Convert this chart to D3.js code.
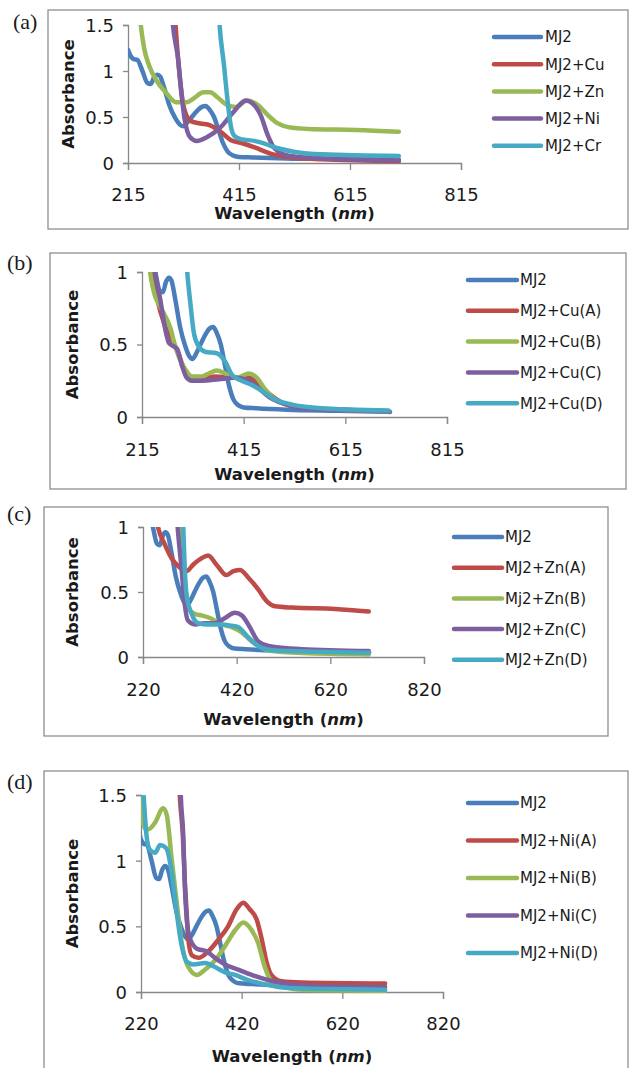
<!DOCTYPE html>
<html><head><meta charset="utf-8">
<script src="https://cdn.jsdelivr.net/npm/d3@7"></script>
<style>body{margin:0;background:#fff}svg{display:block}</style>
</head><body>
<svg id="c" width="629" height="1068"></svg>
<script>
// ---------- DATA ----------
const colors = ["#4A7EBB", "#BE4B48", "#98B954", "#7D5FA0", "#46AAC5"];
const xTicksA = [215, 415, 615, 815];
const xTicksC = [220, 420, 620, 820];
const yTicks15 = [0, 0.5, 1, 1.5];
const yTicks10 = [0, 0.5, 1];

const labelsA = ["MJ2", "MJ2+Cu", "MJ2+Zn", "MJ2+Ni", "MJ2+Cr"];
const labelsB = ["MJ2", "MJ2+Cu(A)", "MJ2+Cu(B)", "MJ2+Cu(C)", "MJ2+Cu(D)"];
const labelsC = ["MJ2", "MJ2+Zn(A)", "Mj2+Zn(B)", "MJ2+Zn(C)", "MJ2+Zn(D)"];
const labelsD = ["MJ2", "MJ2+Ni(A)", "MJ2+Ni(B)", "MJ2+Ni(C)", "MJ2+Ni(D)"];

// MJ2 spectrum (same in every panel)
const mj2 = [[215,1.23],[220,1.16],[225,1.13],[232,1.12],[241,1.0],[250,0.87],[256,0.86],[262,0.93],[268,0.96],[273,0.94],[280,0.82],[290,0.62],[300,0.49],[308,0.42],[314,0.40],[322,0.44],[330,0.50],[340,0.57],[348,0.61],[355,0.62],[362,0.58],[370,0.50],[378,0.36],[386,0.22],[395,0.12],[405,0.08],[415,0.066],[440,0.06],[500,0.05],[600,0.043],[703,0.035]];

// panel (a)
const aCu = [[296,1.9],[303,1.3],[309,0.9],[314,0.65],[320,0.52],[327,0.46],[345,0.43],[363,0.41],[382,0.34],[400,0.25],[418,0.22],[443,0.17],[473,0.10],[504,0.065],[565,0.04],[703,0.02]];
const aZn = [[232,1.9],[238,1.5],[244,1.25],[253,1.06],[266,0.90],[284,0.76],[302,0.66],[321,0.66],[333,0.70],[351,0.77],[363,0.77],[375,0.72],[394,0.63],[409,0.61],[430,0.68],[449,0.63],[467,0.52],[485,0.43],[504,0.39],[540,0.37],[626,0.36],[703,0.34]];
const aNi = [[291,1.9],[296,1.5],[305,1.14],[311,0.77],[317,0.48],[327,0.28],[339,0.24],[357,0.28],[382,0.39],[406,0.56],[427,0.68],[439,0.65],[454,0.52],[467,0.30],[479,0.16],[504,0.08],[565,0.05],[703,0.03]];
const aCr = [[376,1.9],[380,1.5],[388,1.06],[394,0.70],[400,0.41],[406,0.30],[418,0.26],[443,0.24],[461,0.21],[485,0.16],[516,0.12],[565,0.094],[703,0.076]];

// panel (b)
const bCuA = [[234,1.05],[246,0.80],[258,0.65],[270,0.55],[285,0.45],[298,0.33],[310,0.27],[330,0.27],[360,0.28],[398,0.27],[425,0.27],[445,0.23],[465,0.16],[490,0.10],[530,0.065],[700,0.04]];
const bCuB = [[229,1.05],[233,0.95],[241,0.83],[248,0.78],[254,0.74],[260,0.70],[267,0.65],[272,0.60],[277,0.53],[287,0.42],[300,0.33],[313,0.28],[333,0.28],[346,0.30],[362,0.32],[379,0.30],[398,0.27],[410,0.28],[425,0.30],[441,0.27],[457,0.19],[477,0.12],[503,0.085],[562,0.058],[700,0.04]];
const bCuC = [[239,1.05],[243,0.95],[251,0.81],[261,0.60],[268,0.51],[276,0.49],[284,0.47],[294,0.35],[303,0.27],[313,0.25],[333,0.25],[366,0.26],[398,0.27],[425,0.25],[444,0.20],[464,0.14],[490,0.097],[529,0.062],[700,0.04]];
const bCuD = [[302,1.1],[304,1.0],[310,0.79],[317,0.58],[326,0.49],[339,0.45],[362,0.44],[379,0.38],[392,0.29],[411,0.25],[431,0.22],[451,0.18],[477,0.12],[510,0.085],[562,0.062],[700,0.044]];

// panel (c)
const cZnA = [[246,1.12],[252,1.0],[266,0.87],[281,0.76],[295,0.70],[313,0.66],[327,0.71],[345,0.76],[359,0.78],[377,0.71],[398,0.63],[413,0.66],[427,0.67],[445,0.61],[466,0.52],[484,0.43],[502,0.39],[538,0.38],[631,0.37],[702,0.35]];
const cZnB = [[296,1.1],[299,1.0],[304,0.80],[309,0.58],[314,0.44],[320,0.36],[332,0.33],[345,0.32],[363,0.30],[388,0.25],[409,0.23],[431,0.19],[452,0.12],[470,0.08],[488,0.05],[560,0.03],[702,0.02]];
const cZnC = [[292,1.1],[294,1.0],[302,0.69],[309,0.41],[316,0.28],[331,0.25],[352,0.26],[374,0.26],[395,0.30],[416,0.34],[431,0.32],[448,0.23],[466,0.12],[488,0.085],[559,0.06],[702,0.046]];
const cZnD = [[305,1.1],[306,1.0],[309,0.69],[313,0.48],[324,0.33],[338,0.26],[359,0.25],[388,0.25],[409,0.24],[423,0.23],[445,0.15],[466,0.085],[502,0.05],[595,0.04],[702,0.033]];

// panel (d)
const dNiA = [[293,1.9],[297,1.5],[303,1.2],[307,0.85],[311,0.58],[314,0.40],[321,0.28],[334,0.26],[354,0.31],[374,0.40],[393,0.50],[410,0.63],[423,0.68],[436,0.63],[450,0.55],[460,0.40],[470,0.22],[479,0.13],[499,0.082],[539,0.072],[705,0.064]];
const dNiB = [[217,1.7],[220,1.5],[223,1.32],[229,1.24],[235,1.24],[248,1.29],[264,1.40],[271,1.35],[281,1.01],[291,0.68],[301,0.37],[314,0.19],[331,0.13],[347,0.17],[367,0.24],[387,0.35],[407,0.47],[423,0.53],[440,0.47],[453,0.37],[466,0.19],[480,0.077],[506,0.038],[539,0.018],[705,0.01]];
const dNiC = [[296,1.9],[299,1.5],[304,1.19],[307,0.81],[311,0.55],[317,0.41],[331,0.33],[350,0.31],[367,0.26],[387,0.21],[413,0.17],[440,0.13],[473,0.09],[506,0.064],[572,0.044],[705,0.038]];
const dNiD = [[221,1.7],[225,1.5],[231,1.19],[238,1.08],[248,1.06],[258,1.12],[265,1.11],[271,1.09],[281,0.91],[291,0.60],[301,0.35],[311,0.23],[324,0.21],[347,0.22],[367,0.19],[387,0.15],[407,0.13],[433,0.09],[460,0.064],[493,0.038],[539,0.026],[705,0.018]];

// ---------- LAYOUT ----------
const panels = [
  {tag:"(a)", tagX:13, tagY:29, frame:[48,10,628,229], x:[128,461], y:[163,25], xd:[215,815], yd:[0,1.5],
   xt:xTicksA, yt:yTicks15, series:[mj2,aCu,aZn,aNi,aCr], labels:labelsA, ytx:68, xtb:56, tp:18,
   leg:{x1:494,x2:541,tx:545,y0:37,dy:27.2}},
  {tag:"(b)", tagX:7, tagY:270, frame:[50,253,626,489], x:[142,447], y:[417,272], xd:[215,815], yd:[0,1],
   xt:xTicksA, yt:yTicks10, series:[mj2,bCuA,bCuB,bCuC,bCuD], labels:labelsB, ytx:72, xtb:63, tp:19,
   leg:{x1:468,x2:517,tx:520,y0:280,dy:30.8}},
  {tag:"(c)", tagX:7, tagY:521, frame:[44,507,608,736], x:[143,424], y:[657,527], xd:[220,820], yd:[0,1],
   xt:xTicksC, yt:yTicks10, series:[mj2,cZnA,cZnB,cZnC,cZnD], labels:labelsC, ytx:72, xtb:68, tp:19,
   leg:{x1:454,x2:502,tx:505,y0:537,dy:30.7}},
  {tag:"(d)", tagX:7, tagY:789, frame:[44,771,628,1075], x:[141,443], y:[992,795], xd:[220,820], yd:[0,1.5],
   xt:xTicksC, yt:yTicks15, series:[mj2,dNiA,dNiB,dNiC,dNiD], labels:labelsD, ytx:72, xtb:70, tp:18,
   leg:{x1:468,x2:517,tx:520,y0:803,dy:37.5}}
];

const svg = d3.select("#c");
const defs = svg.append("defs");
const axisColor = "#888";
const txt = "#1a1a1a";
const FONT = "'DejaVu Sans', sans-serif";

panels.forEach((p, i) => {
  const g = svg.append("g");
  const [fx0, fy0, fx1, fy1] = p.frame;
  g.append("rect").attr("x", fx0).attr("y", fy0).attr("width", fx1 - fx0).attr("height", fy1 - fy0)
    .attr("fill", "#fff").attr("stroke", "#8f8f8f").attr("stroke-width", 1.3);
  g.append("text").attr("x", p.tagX).attr("y", p.tagY).text(p.tag)
    .attr("font-family", "'Liberation Serif', serif").attr("font-size", 22).attr("fill", txt);

  const x = d3.scaleLinear().domain(p.xd).range(p.x);
  const y = d3.scaleLinear().domain(p.yd).range(p.y);

  const cid = "clip" + i;
  defs.append("clipPath").attr("id", cid).append("rect")
    .attr("x", p.x[0]).attr("y", p.y[1]).attr("width", p.x[1] - p.x[0]).attr("height", p.y[0] - p.y[1] + 4);

  const xa = g.append("g").attr("transform", `translate(0,${p.y[0]})`)
    .call(d3.axisBottom(x).tickValues(p.xt).tickSize(7).tickPadding(p.tp).tickFormat(d3.format("d")));
  const ya = g.append("g").attr("transform", `translate(${p.x[0]},0)`)
    .call(d3.axisLeft(y).tickValues(p.yt).tickSize(5).tickPadding(9).tickFormat(d => d === 0 ? "0" : d3.format("")(d)));
  [xa, ya].forEach(a => {
    a.select(".domain").attr("stroke", axisColor).attr("stroke-width", 1.3);
    a.selectAll(".tick line").attr("stroke", axisColor).attr("stroke-width", 1.3);
    a.selectAll(".tick text").attr("font-family", FONT).attr("font-size", 18).attr("fill", txt);
  });
  ya.selectAll(".tick text").attr("dy", "0.36em");

  const line = d3.line().x(d => x(d[0])).y(d => y(d[1])).curve(d3.curveMonotoneX);
  const lg = g.append("g").attr("clip-path", `url(#${cid})`);
  p.series.forEach((s, k) => {
    lg.append("path").datum(s).attr("d", line).attr("fill", "none")
      .attr("stroke", colors[k]).attr("stroke-width", 4.5)
      .attr("stroke-linejoin", "round").attr("stroke-linecap", "round");
  });

  const cx = (p.x[0] + p.x[1]) / 2;
  const xt = g.append("text").attr("x", cx).attr("y", p.y[0] + p.xtb).attr("text-anchor", "middle")
    .attr("font-family", FONT).attr("font-size", 16.5).attr("font-weight", "bold").attr("fill", txt);
  xt.append("tspan").text("Wavelength (");
  xt.append("tspan").attr("font-style", "italic").text("nm");
  xt.append("tspan").text(")");
  const cy = (p.y[0] + p.y[1]) / 2;
  g.append("text").attr("transform", `translate(${p.ytx},${cy}) rotate(-90)`).attr("text-anchor", "middle")
    .attr("dy", "0.36em").attr("font-family", FONT).attr("font-size", 16.5).attr("font-weight", "bold")
    .attr("fill", txt).text("Absorbance");

  p.labels.forEach((lab, k) => {
    const yy = p.leg.y0 + k * p.leg.dy;
    g.append("line").attr("x1", p.leg.x1).attr("x2", p.leg.x2).attr("y1", yy).attr("y2", yy)
      .attr("stroke", colors[k]).attr("stroke-width", 4.5).attr("stroke-linecap", "round");
    g.append("text").attr("x", p.leg.tx).attr("y", yy).attr("dy", "0.36em").text(lab)
      .attr("font-family", FONT).attr("font-size", 15).attr("fill", txt);
  });
});
</script>
</body></html>
